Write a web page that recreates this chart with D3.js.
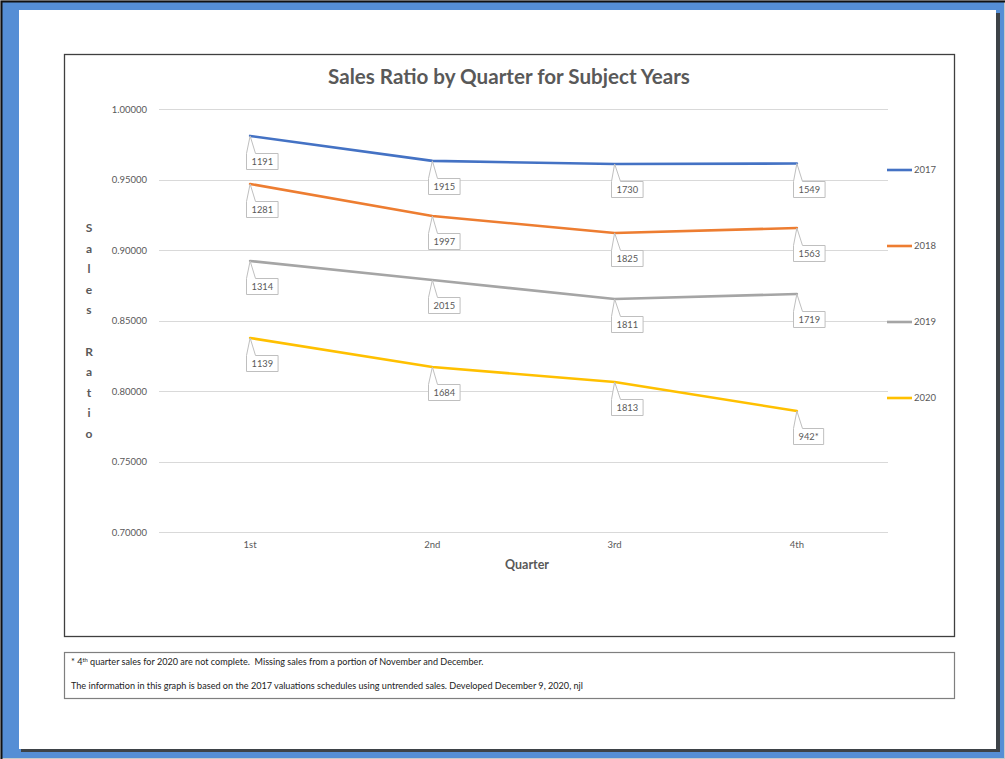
<!DOCTYPE html>
<html>
<head>
<meta charset="utf-8">
<script src="https://cdn.jsdelivr.net/npm/d3@7"></script>
<style>
  html, body { margin: 0; padding: 0; background: #fff; }
  svg { display: block; }
</style>
</head>
<body>
<svg id="chart" width="1005" height="759"></svg>
<script>
// ---------- data ----------
const quarters = ["1st", "2nd", "3rd", "4th"];
const seriesNames = ["2017", "2018", "2019", "2020"];
const ratio2017 = [0.9809, 0.9632, 0.9610, 0.9613];
const ratio2018 = [0.9468, 0.9241, 0.9121, 0.9156];
const ratio2019 = [0.8922, 0.8787, 0.8652, 0.8688];
const ratio2020 = [0.8376, 0.8170, 0.8064, 0.7858];
const sales2017 = ["1191", "1915", "1730", "1549"];
const sales2018 = ["1281", "1997", "1825", "1563"];
const sales2019 = ["1314", "2015", "1811", "1719"];
const sales2020 = ["1139", "1684", "1813", "942*"];
const yTicks = [0.70, 0.75, 0.80, 0.85, 0.90, 0.95, 1.00];
const seriesColors = ["#4472C4", "#ED7D31", "#A5A5A5", "#FFC000"];
const titleText = "Sales Ratio by Quarter for Subject Years";
const yTitle = "Sales Ratio";
const xTitle = "Quarter";

const seriesData = seriesNames.map((name, i) => ({
  name,
  color: seriesColors[i],
  values: [ratio2017, ratio2018, ratio2019, ratio2020][i],
  labels: [sales2017, sales2018, sales2019, sales2020][i]
}));

// ---------- layout ----------
const svg = d3.select("#chart");
const FONT = "Lato, 'Open Sans', sans-serif";
const grayText = "#595959";

// page frame
svg.append("rect").attr("x", 0).attr("y", 0).attr("width", 1005).attr("height", 759).attr("fill", "#558ED5");
svg.append("rect").attr("x", 0.5).attr("y", 0.5).attr("width", 1004).attr("height", 758).attr("fill", "none").attr("stroke", "#c8c8c8").attr("stroke-width", 1);
svg.append("path").attr("d", "M1.5,759 V1.5 H1005").attr("fill", "none").attr("stroke", "#111").attr("stroke-width", 2);
// shadow
svg.append("rect").attr("x", 21).attr("y", 13).attr("width", 979).attr("height", 739).attr("fill", "#3d4247");
svg.append("rect").attr("x", 19).attr("y", 10).attr("width", 977).attr("height", 739).attr("fill", "#ffffff");

// chart box
svg.append("rect").attr("x", 64.5).attr("y", 54.5).attr("width", 890).attr("height", 582)
  .attr("fill", "#fff").attr("stroke", "#3f3f3f").attr("stroke-width", 1.3);
// footnote box
svg.append("rect").attr("x", 64.5).attr("y", 652.5).attr("width", 890).attr("height", 46)
  .attr("fill", "#fff").attr("stroke", "#7f7f7f").attr("stroke-width", 1.2);

// scales
const x = d3.scaleBand().domain(quarters).range([159, 888]).padding(0);
const cx = q => x(q) + x.bandwidth() / 2;
const y = d3.scaleLinear().domain([0.70, 1.00]).range([532, 109]);

// gridlines
svg.append("g").selectAll("line").data(yTicks).join("line")
  .attr("x1", 159).attr("x2", 888)
  .attr("y1", d => Math.round(y(d)) + 0.5).attr("y2", d => Math.round(y(d)) + 0.5)
  .attr("stroke", "#D9D9D9").attr("stroke-width", 1);

// y axis (labels only)
const yAxis = d3.axisLeft(y).tickValues(yTicks).tickFormat(d3.format(".5f")).tickSize(0).tickPadding(0);
const yg = svg.append("g").attr("transform", "translate(147,0)").call(yAxis);
yg.select(".domain").remove();
yg.selectAll("text").attr("font-family", FONT).attr("font-size", 9.5).attr("fill", grayText).attr("dy", "0.35em");

// x axis (labels only)
const xAxis = d3.axisBottom(x).tickSize(0).tickPadding(0);
const xg = svg.append("g").attr("transform", "translate(0,541)").call(xAxis);
xg.select(".domain").remove();
xg.selectAll("text").attr("font-family", FONT).attr("font-size", 9.5).attr("fill", grayText).attr("dy", "0.71em");

// title
svg.append("text").attr("x", 509).attr("y", 84).attr("text-anchor", "middle")
  .attr("font-family", FONT).attr("font-weight", "bold").attr("font-size", 20.6)
  .attr("fill", grayText).text(titleText);

// x title
svg.append("text").attr("x", 527).attr("y", 569).attr("text-anchor", "middle")
  .attr("font-family", FONT).attr("font-weight", "bold").attr("font-size", 12.5)
  .attr("fill", grayText).text(xTitle);

// y title stacked letters
const letters = yTitle.split("");
const letterStep = 20.6;
svg.append("g").selectAll("text").data(letters).join("text")
  .attr("x", 89).attr("y", (d, i) => 232 + i * letterStep)
  .attr("text-anchor", "middle")
  .attr("font-family", FONT).attr("font-weight", "bold").attr("font-size", 12)
  .attr("fill", grayText).text(d => d);

// lines
const line = d3.line().x((d, i) => cx(quarters[i])).y(d => y(d));
svg.append("g").selectAll("path").data(seriesData).join("path")
  .attr("d", d => line(d.values))
  .attr("fill", "none").attr("stroke", d => d.color).attr("stroke-width", 2.6)
  .attr("stroke-linejoin", "round").attr("stroke-linecap", "round");

// callout labels
const labelGap = 17;   // distance from point to callout box top
const boxH = 16;
const labelG = svg.append("g");
seriesData.forEach(s => {
  s.values.forEach((v, i) => {
    const px = cx(quarters[i]);
    const py = y(v);
    const txt = s.labels[i];
    const g = labelG.append("g");
    const t = g.append("text")
      .attr("font-family", FONT).attr("font-size", 9.3).attr("fill", grayText)
      .text(txt);
    const w = t.node().getComputedTextLength() + 10;
    const bx = Math.round(px - 4) + 0.5;
    const by = Math.round(py + labelGap) + 0.5;
    const path = `M${bx},${by} L${px},${py} L${bx + 9},${by} L${bx + w},${by} L${bx + w},${by + boxH} L${bx},${by + boxH} Z`;
    g.insert("path", "text").attr("d", path).attr("fill", "#fff").attr("stroke", "#BFBFBF").attr("stroke-width", 1);
    t.attr("x", bx + w / 2).attr("y", by + boxH / 2).attr("dy", "0.35em").attr("text-anchor", "middle");
  });
});

// legend
const legendY = d3.scalePoint().domain(seriesNames).range([170, 398]);
const lg = svg.append("g").selectAll("g").data(seriesData).join("g")
  .attr("transform", d => `translate(887,${legendY(d.name)})`);
lg.append("line").attr("x1", 0).attr("x2", 25).attr("y1", 0).attr("y2", 0)
  .attr("stroke", d => d.color).attr("stroke-width", 2.6);
lg.append("text").attr("x", 27).attr("y", 0).attr("dy", "0.35em")
  .attr("font-family", FONT).attr("font-size", 9.5).attr("fill", grayText).text(d => d.name);

// footnotes
const fn = svg.append("g").attr("font-family", FONT).attr("font-size", 9.1).attr("fill", "#222");
const f1 = fn.append("text").attr("x", 71).attr("y", 665);
f1.append("tspan").text("* 4");
f1.append("tspan").attr("font-size", 5.8).attr("dy", -3.5).text("th");
f1.append("tspan").attr("dy", 3.5).text(" quarter sales for 2020 are not complete.\u00A0 Missing sales from a portion of November and December.");
fn.append("text").attr("x", 71).attr("y", 689)
  .text("The information in this graph is based on the 2017 valuations schedules using untrended sales. Developed December 9, 2020, njl");
</script>
</body>
</html>
